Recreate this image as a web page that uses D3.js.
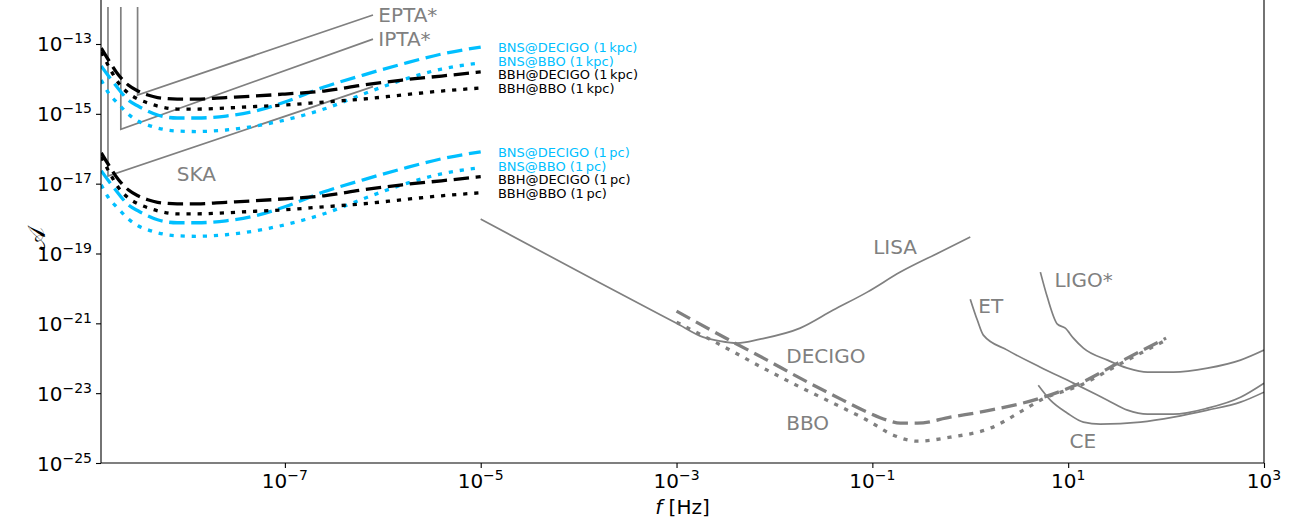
<!DOCTYPE html>
<html><head><meta charset="utf-8">
<script src="https://cdn.jsdelivr.net/npm/d3@7"></script>
<style>body{margin:0;background:#fff}svg{display:block}</style>
</head><body><svg id="c" width="1304" height="525"></svg>
<script>
// ---------- data ----------
const sigFreq = [1.33e-9,1.58e-9,2.0e-9,2.51e-9,3.16e-9,3.98e-9,5.01e-9,7.94e-9,1.26e-8,2.51e-8,5.01e-8,1e-7,2.51e-7,6.31e-7,1.58e-6,3.98e-6,1e-5];
const bnsDecigo1kpc = [2.34e-14,1.21e-14,5.14e-15,2.48e-15,1.67e-15,1.20e-15,9.25e-16,7.59e-16,7.59e-16,8.65e-16,1.20e-15,2.18e-15,5.86e-15,1.29e-14,2.67e-14,5.16e-14,8.20e-14];
const bnsBbo1kpc    = [9.29e-15,3.94e-15,1.91e-15,9.86e-16,6.22e-16,4.78e-16,3.92e-16,3.21e-16,3.11e-16,3.44e-16,4.47e-16,6.64e-16,1.37e-15,3.69e-15,9.29e-15,1.92e-14,2.86e-14];
const bbhDecigo1kpc = [7.67e-14,3.48e-14,1.29e-14,6.68e-15,4.50e-15,3.46e-15,2.93e-15,2.65e-15,2.65e-15,2.93e-15,3.24e-15,3.69e-15,4.50e-15,6.68e-15,9.29e-15,1.21e-14,1.58e-14];
const bbhBbo1kpc    = [5.90e-14,2.34e-14,7.64e-15,3.94e-15,2.65e-15,2.04e-15,1.67e-15,1.37e-15,1.37e-15,1.47e-15,1.62e-15,1.79e-15,2.18e-15,2.65e-15,3.46e-15,4.50e-15,5.48e-15];
const bnsDecigo1pc  = [2.34e-17,1.21e-17,5.14e-18,2.48e-18,1.67e-18,1.20e-18,9.25e-19,7.59e-19,7.59e-19,8.65e-19,1.20e-18,2.18e-18,5.86e-18,1.29e-17,2.67e-17,5.16e-17,8.20e-17];
const bnsBbo1pc     = [9.29e-18,3.94e-18,1.91e-18,9.86e-19,6.22e-19,4.78e-19,3.92e-19,3.21e-19,3.11e-19,3.44e-19,4.47e-19,6.64e-19,1.37e-18,3.69e-18,9.29e-18,1.92e-17,2.86e-17];
const bbhDecigo1pc  = [7.67e-17,3.48e-17,1.29e-17,6.68e-18,4.50e-18,3.46e-18,2.93e-18,2.65e-18,2.65e-18,2.93e-18,3.24e-18,3.69e-18,4.50e-18,6.68e-18,9.29e-18,1.21e-17,1.58e-17];
const bbhBbo1pc     = [5.90e-17,2.34e-17,7.64e-18,3.94e-18,2.65e-18,2.04e-18,1.67e-18,1.37e-18,1.37e-18,1.47e-18,1.62e-18,1.79e-18,2.18e-18,2.65e-18,3.46e-18,4.50e-18,5.48e-18];

const sigNames = ["BNS@DECIGO (1\u2009kpc)","BNS@BBO (1\u2009kpc)","BBH@DECIGO (1\u2009kpc)","BBH@BBO (1\u2009kpc)",
                  "BNS@DECIGO (1\u2009pc)","BNS@BBO (1\u2009pc)","BBH@DECIGO (1\u2009pc)","BBH@BBO (1\u2009pc)"];
const sigLabelF = 1.5e-5;
const sigLabelA = [8.04e-14,3.19e-14,1.33e-14,5.27e-15,8.04e-17,3.19e-17,1.33e-17,5.27e-18];

const eptaF = [3.13e-9,3.13e-9,7.94e-7], eptaA = [1.15e-12,3.47e-15,6.76e-13];
const iptaF = [2.11e-9,2.11e-9,7.94e-7], iptaA = [1.15e-12,3.63e-16,1.38e-13];
const skaF  = [1.56e-9,1.56e-9,7.94e-7], skaA  = [1.15e-12,1.66e-17,6.0e-15];

const lisaF = [1e-5,1.66e-4,1e-3,1.87e-3,2.79e-3,4.16e-3,7.14e-3,1.83e-2,3.98e-2,8.87e-2,0.193,0.494,1.0];
const lisaA = [9.68e-19,1.42e-20,1.01e-21,4.03e-22,3.09e-22,2.71e-22,3.52e-22,7.28e-22,2.39e-21,7.83e-21,2.93e-20,1.10e-19,2.95e-19];
const decigoF = [1e-3,3.79e-3,8.43e-3,1.83e-2,3.98e-2,8.87e-2,0.142,0.193,0.288,0.625,1.60,5.20,13.3,36.6,100];
const decigoA = [2.24e-21,2.89e-22,8.83e-23,2.69e-23,8.77e-24,2.86e-24,1.68e-24,1.38e-24,1.38e-24,2.05e-24,3.26e-24,7.19e-24,1.94e-23,8.83e-23,3.77e-22];
const bboF = [1e-3,2.60e-3,8.43e-3,1.83e-2,3.98e-2,8.87e-2,0.164,0.288,0.625,1.60,3.48,5.20,13.3,36.6,100];
const bboA = [1.08e-21,2.71e-22,4.56e-23,1.49e-23,5.16e-24,1.68e-24,6.27e-25,4.22e-25,5.48e-25,9.93e-25,3.26e-24,6.30e-24,1.69e-23,7.73e-23,3.30e-22];
const etF = [1.0,1.18,1.36,2.39,5.20,11.3,25.2,40.3,64.6,119,265,575,1000];
const etA = [4.93e-21,1.24e-21,4.59e-22,1.71e-22,5.56e-23,1.94e-23,6.30e-24,3.26e-24,2.50e-24,2.50e-24,3.72e-24,7.67e-24,1.94e-23];
const ceF = [4.95,6.58,9.82,14.3,21.3,54.7,119,265,575,1000];
const ceA = [1.69e-23,6.30e-24,2.67e-24,1.48e-24,1.29e-24,1.48e-24,2.05e-24,3.26e-24,5.52e-24,1.07e-23];
const ligoF = [5.20,6.12,7.76,9.35,11.3,14.3,25.2,40.3,64.6,119,265,575,1000];
const ligoA = [2.93e-20,5.64e-21,9.48e-22,7.28e-22,3.77e-22,1.95e-22,8.83e-23,5.20e-23,4.0e-23,4.0e-23,5.20e-23,8.83e-23,1.71e-22];

const instLabels = ["EPTA*","IPTA*","SKA","LISA","DECIGO","BBO","ET","LIGO*","CE"];
const instLabelF = [9.0e-7,9.0e-7,7.87e-9,0.102,1.32e-2,1.32e-2,1.21,7.23,10.3];
const instLabelA = [4.35e-13,8.93e-14,1.21e-17,9.62e-20,7.38e-23,8.71e-25,1.96e-21,1.11e-20,2.69e-25];

const xTicks = [1e-7,1e-5,1e-3,1e-1,1e1,1e3];
const xTickExp = ["\u22127","\u22125","\u22123","\u22121","1","3"];
const yTicks = [1e-25,1e-23,1e-21,1e-19,1e-17,1e-15,1e-13];
const yTickExp = ["\u221225","\u221223","\u221221","\u221219","\u221217","\u221215","\u221213"];

// ---------- layout ----------
const L = 101, R = 1264, B = 463, T = 0;
const x = d3.scaleLog().domain([1.324e-9, 1e3]).range([L, R]);
const y = d3.scaleLog().domain([1e-25, Math.pow(10, -11.74)]).range([B, T]);
const GRAY = "#808080", BLUE = "#00bfff", FONT = "DejaVu Sans, sans-serif";

const svg = d3.select("#c");
svg.append("defs").append("clipPath").attr("id","clip")
  .append("rect").attr("x",L).attr("y",-20).attr("width",R-L).attr("height",B+20);
const plot = svg.append("g").attr("clip-path","url(#clip)");

const pts = (F, A) => F.map((f,i)=>[f, A[i]]);
const lineLin = d3.line().x(d=>x(d[0])).y(d=>y(d[1]));
const lineSm = d3.line().x(d=>x(d[0])).y(d=>y(d[1])).curve(d3.curveMonotoneX);

// PTA
[[eptaF,eptaA],[iptaF,iptaA],[skaF,skaA]].forEach(([F,A])=>{
  plot.append("path").attr("d", lineLin(pts(F,A))).attr("fill","none")
    .attr("stroke",GRAY).attr("stroke-width",1.7);
});

// signal curves
const DASH = "15.4,6.7", DOT = "4.2,6.9", SW = 3.3;
const sigSeries = [
  [bnsDecigo1kpc, BLUE, DASH],[bnsBbo1kpc, BLUE, DOT],[bbhDecigo1kpc,"#000",DASH],[bbhBbo1kpc,"#000",DOT],
  [bnsDecigo1pc, BLUE, DASH],[bnsBbo1pc, BLUE, DOT],[bbhDecigo1pc,"#000",DASH],[bbhBbo1pc,"#000",DOT]
];
sigSeries.forEach(([A,c,da])=>{
  plot.append("path").attr("d", lineSm(pts(sigFreq,A))).attr("fill","none")
    .attr("stroke",c).attr("stroke-width",SW).attr("stroke-dasharray",da);
});

// detectors
plot.append("path").attr("d", lineSm(pts(lisaF,lisaA))).attr("fill","none").attr("stroke",GRAY).attr("stroke-width",1.7);
plot.append("path").attr("d", lineSm(pts(decigoF,decigoA))).attr("fill","none").attr("stroke",GRAY).attr("stroke-width",SW).attr("stroke-dasharray",DASH);
plot.append("path").attr("d", lineSm(pts(bboF,bboA))).attr("fill","none").attr("stroke",GRAY).attr("stroke-width",SW).attr("stroke-dasharray",DOT);
[[etF,etA],[ceF,ceA],[ligoF,ligoA]].forEach(([F,A])=>{
  plot.append("path").attr("d", lineSm(pts(F,A))).attr("fill","none").attr("stroke",GRAY).attr("stroke-width",1.7);
});

// labels
instLabels.forEach((t,i)=>{
  svg.append("text").attr("x",x(instLabelF[i])).attr("y",y(instLabelA[i]))
    .attr("font-family",FONT).attr("font-size",20).attr("fill",GRAY).text(t);
});
sigNames.forEach((t,i)=>{
  svg.append("text").attr("x",x(sigLabelF)).attr("y",y(sigLabelA[i])).attr("dy","0.36em")
    .attr("font-family",FONT).attr("font-size",13).attr("fill",sigSeries[i][1]).text(t);
});

// axes
const ax = svg.append("g").attr("transform",`translate(0,${B})`)
  .call(d3.axisBottom(x).tickValues(xTicks).tickFormat("").tickSize(5).tickSizeOuter(0));
const ay = svg.append("g").attr("transform",`translate(${L},0)`)
  .call(d3.axisLeft(y).tickValues(yTicks).tickFormat("").tickSize(5).tickSizeOuter(0));
[ax,ay].forEach(g=>{ g.select(".domain").remove(); g.selectAll("line").attr("stroke","#000").attr("stroke-width",1.1); });

xTicks.forEach((v,i)=>{
  const t = svg.append("text").attr("x",x(v)).attr("y",488).attr("text-anchor","middle")
    .attr("font-family",FONT).attr("fill","#000");
  t.append("tspan").attr("font-size",20).text("10");
  t.append("tspan").attr("font-size",14).attr("dy",-8).text(xTickExp[i]);
});
yTicks.forEach((v,i)=>{
  const t = svg.append("text").attr("x",L-9).attr("y",y(v)+7.5).attr("text-anchor","end")
    .attr("font-family",FONT).attr("fill","#000");
  t.append("tspan").attr("font-size",20).text("10");
  t.append("tspan").attr("font-size",14).attr("dy",-8).text(yTickExp[i]);
});

// spines
svg.append("line").attr("x1",L).attr("x2",L).attr("y1",T-5).attr("y2",B).attr("stroke","#000").attr("stroke-width",1.1);
svg.append("line").attr("x1",R).attr("x2",R).attr("y1",T-5).attr("y2",B).attr("stroke","#000").attr("stroke-width",1.1);
svg.append("line").attr("x1",L).attr("x2",R).attr("y1",B).attr("y2",B).attr("stroke","#000").attr("stroke-width",1.1);

// axis titles
const xl = svg.append("text").attr("x",(L+R)/2).attr("y",514).attr("text-anchor","middle")
  .attr("font-family",FONT).attr("font-size",20).attr("fill","#000");
xl.append("tspan").attr("font-style","italic").text("f");
xl.append("tspan").text(" [Hz]");
svg.append("text").attr("transform",`translate(45,238) rotate(-90)`).attr("text-anchor","middle")
  .attr("font-family","DejaVu Serif, DejaVu Sans, serif").attr("font-size",24).attr("fill","#000").text("\uD835\uDC9C");
</script>
</body></html>
